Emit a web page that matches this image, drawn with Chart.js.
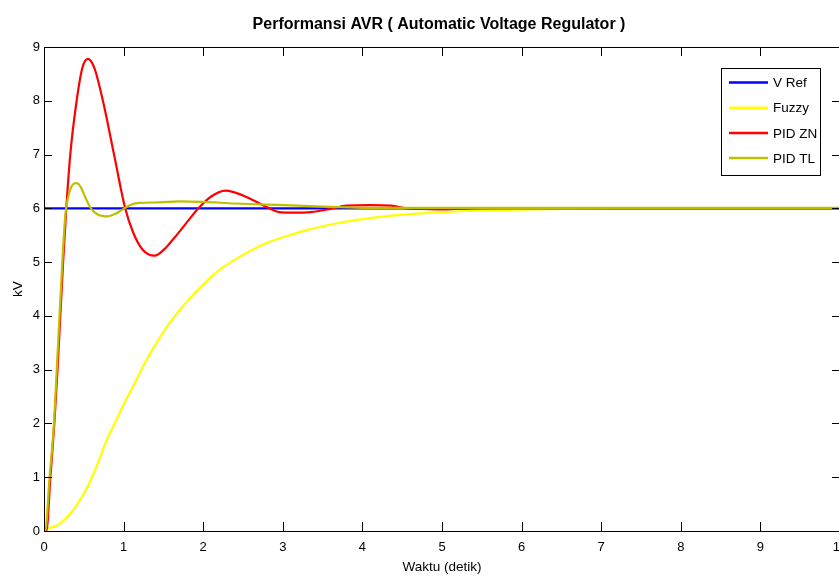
<!DOCTYPE html>
<html>
<head>
<meta charset="utf-8">
<script src="https://cdn.jsdelivr.net/npm/chart.js@4.4.1/dist/chart.umd.min.js"></script>
<style>
  html, body { margin: 0; padding: 0; overflow: hidden; background: #fff; }
  canvas { display: block; }
</style>
</head>
<body>
<canvas id="avrChart" width="880" height="578"></canvas>
<script>
// data (time in seconds, voltage in kV)
const seriesLabels = ['V Ref', 'Fuzzy', 'PID ZN', 'PID TL'];
const seriesColors = ['#0000ff', '#ffff00', '#ff0000', '#bfbf00'];

const vrefTime  = [0, 10];
const vrefValue = [6, 6];

const fuzzyTime  = [0, 0.03, 0.15, 0.28, 0.40, 0.53, 0.66, 0.78, 0.91, 0.99, 1.12, 1.28, 1.41, 1.53, 1.74,
                    1.91, 2.2, 2.46, 2.79, 3.08, 3.29, 3.6, 4.0, 4.68, 5.3, 5.8, 6.5, 7.2, 10];
const fuzzyValue = [0, 0.04, 0.09, 0.24, 0.46, 0.77, 1.2, 1.66, 2.07, 2.32, 2.69, 3.16, 3.49, 3.77, 4.17,
                    4.45, 4.85, 5.1, 5.35, 5.5, 5.59, 5.7, 5.8, 5.9, 5.95, 5.97, 5.99, 6.0, 6.0];

const znTime  = [0, 0.03, 0.08, 0.13, 0.17, 0.205, 0.24, 0.28, 0.33, 0.41, 0.48, 0.55, 0.63, 0.74, 0.88,
                 1.02, 1.12, 1.24, 1.39, 1.52, 1.62, 1.79, 1.94, 2.1, 2.28, 2.5, 2.83, 2.95, 3.15, 3.35,
                 3.6, 3.8, 4.1, 4.36, 4.55, 4.72, 5.0, 5.19, 5.4, 10];
const znValue = [0, 0, 1, 2, 3, 4, 5, 6, 7, 8, 8.6, 8.78, 8.62, 8.0, 7.0,
                 6.0, 5.55, 5.23, 5.12, 5.25, 5.42, 5.73, 6.0, 6.22, 6.33, 6.24, 6.0, 5.93, 5.92, 5.93,
                 5.99, 6.05, 6.06, 6.05, 6.0, 5.99, 5.98, 5.99, 6.0, 6.0];

const tlTime  = [0, 0.015, 0.07, 0.125, 0.16, 0.195, 0.23, 0.27, 0.32, 0.36, 0.41, 0.46, 0.52, 0.59, 0.68,
                 0.8, 0.9, 1.01, 1.1, 1.2, 1.45, 1.7, 2.0, 2.4, 2.8, 3.2, 3.5, 4.0, 10];
const tlValue = [0, 0, 1, 2, 3, 4, 5, 5.9, 6.3, 6.44, 6.47, 6.4, 6.2, 6.0, 5.88,
                 5.85, 5.9, 6.0, 6.07, 6.1, 6.11, 6.13, 6.12, 6.09, 6.07, 6.05, 6.03, 6.01, 6.01];

const xMin = 0, xMax = 10, xStep = 1;
const yMin = 0, yMax = 9, yStep = 1;

const titleText = 'Performansi AVR ( Automatic Voltage Regulator )';
const xTitle = 'Waktu (detik)';
const yTitle = 'kV';

const FONT = "'Liberation Sans', Arial, sans-serif";

const toPoints = (ts, vs) => ts.map((t, i) => ({ x: t, y: vs[i] }));

const allSeries = [
  toPoints(vrefTime, vrefValue),
  toPoints(fuzzyTime, fuzzyValue),
  toPoints(znTime, znValue),
  toPoints(tlTime, tlValue)
];

// matlab style frame: title, box + inward ticks, legend box in upper right
const matlabFrame = {
  id: 'matlabFrame',
  afterDraw(chart) {
    const { ctx, chartArea: a, scales: { x, y } } = chart;
    ctx.save();

    ctx.fillStyle = '#000';
    ctx.font = 'bold 16px ' + FONT;
    ctx.textAlign = 'center';
    ctx.textBaseline = 'middle';
    ctx.fillText(titleText, (a.left + a.right) / 2 - 3, 25);

    ctx.strokeStyle = '#000';
    ctx.lineWidth = 1;
    ctx.strokeRect(a.left + 0.5, a.top + 0.5, a.right - a.left, a.bottom - a.top);

    ctx.beginPath();
    x.ticks.forEach(t => {
      const px = Math.round(x.getPixelForValue(t.value)) + 0.5;
      ctx.moveTo(px, a.bottom); ctx.lineTo(px, a.bottom - 9);
      ctx.moveTo(px, a.top);    ctx.lineTo(px, a.top + 9);
    });
    y.ticks.forEach(t => {
      const py = Math.round(y.getPixelForValue(t.value)) + 0.5;
      ctx.moveTo(a.left, py);  ctx.lineTo(a.left + 8, py);
      ctx.moveTo(a.right, py); ctx.lineTo(a.right - 8, py);
    });
    ctx.stroke();

    // legend
    const lx = 721, ly = 68, lw = 99, lh = 107;
    ctx.fillStyle = '#fff';
    ctx.fillRect(lx, ly, lw, lh);
    ctx.strokeRect(lx + 0.5, ly + 0.5, lw, lh);
    ctx.font = '13.5px ' + FONT;
    ctx.textBaseline = 'middle';
    ctx.textAlign = 'left';
    chart.data.datasets.forEach((ds, i) => {
      const cy = 82.5 + i * 25.2;
      ctx.strokeStyle = ds.borderColor;
      ctx.lineWidth = 2.5;
      ctx.beginPath();
      ctx.moveTo(729, cy); ctx.lineTo(768, cy);
      ctx.stroke();
      ctx.fillStyle = '#000';
      ctx.fillText(ds.label, 773, cy + 1);
    });
    ctx.restore();
  }
};

const ctx = document.getElementById('avrChart').getContext('2d');
new Chart(ctx, {
  type: 'line',
  data: {
    datasets: allSeries.map((pts, i) => ({
      label: seriesLabels[i],
      data: pts,
      borderColor: seriesColors[i],
      backgroundColor: seriesColors[i],
      borderWidth: 2.2,
      pointRadius: 0,
      fill: false,
      cubicInterpolationMode: 'monotone',
      order: seriesLabels.length - 1 - i
    }))
  },
  options: {
    responsive: false,
    animation: false,
    layout: { padding: { top: 47, right: 40, left: 0, bottom: 0 } },
    plugins: {
      legend: { display: false },
      tooltip: { enabled: false },
      title: { display: false }
    },
    scales: {
      x: {
        type: 'linear',
        min: xMin, max: xMax,
        ticks: { stepSize: xStep, color: '#000', padding: 9, maxRotation: 0,
                 font: { family: FONT, size: 13 } },
        grid: { display: false, drawTicks: false },
        border: { display: false },
        title: { display: true, text: xTitle, color: '#000',
                 font: { family: FONT, size: 13.5 }, padding: { top: 0, bottom: 3 } },
        afterFit: s => { s.height = 47; }
      },
      y: {
        min: yMin, max: yMax,
        ticks: { stepSize: yStep, color: '#000', padding: 4,
                 font: { family: FONT, size: 13 } },
        grid: { display: false, drawTicks: false },
        border: { display: false },
        title: { display: true, text: yTitle, color: '#000',
                 font: { family: FONT, size: 13.5 }, padding: { top: 10, bottom: 0 } },
        afterFit: s => { s.width = 44; }
      }
    }
  },
  plugins: [matlabFrame]
});
</script>
</body>
</html>
